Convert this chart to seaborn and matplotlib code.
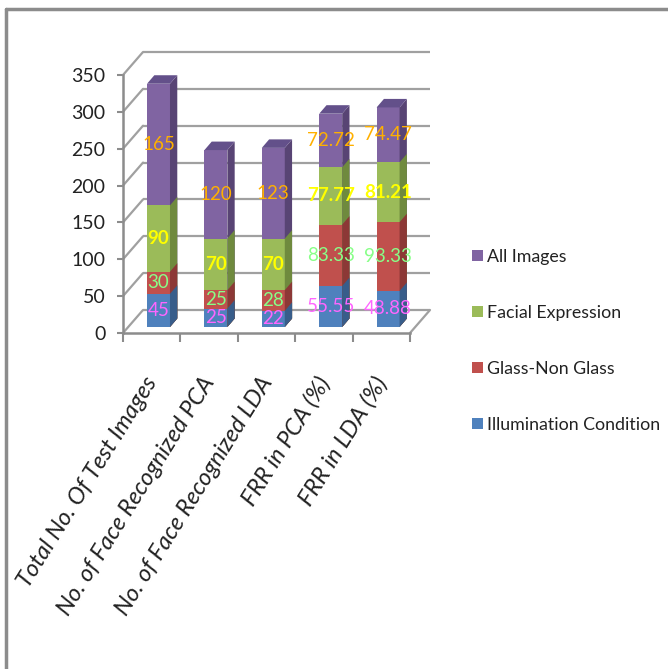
import numpy as np
import pandas as pd
import matplotlib
matplotlib.use("Agg")
import matplotlib.pyplot as plt
import matplotlib.transforms as mtransforms
from matplotlib.patches import Polygon, Patch
from matplotlib.lines import Line2D
import seaborn as sns

# ── data ────────────────────────────────────────────────────────────────────
categories = ["Total No. Of Test Images", "No. of Face Recognized PCA",
              "No. of Face Recognized LDA", "FRR in PCA (%)", "FRR in LDA (%)"]
illumination = [45, 25, 22, 55.55, 48.88]
glass        = [30, 25, 28, 83.33, 93.33]
facial       = [90, 70, 70, 77.77, 81.21]
all_images   = [165, 120, 123, 72.72, 74.47]
series_names = ["Illumination Condition", "Glass-Non Glass",
                "Facial Expression", "All Images"]
y_ticks = [0, 50, 100, 150, 200, 250, 300, 350]

# ── styles ──────────────────────────────────────────────────────────────────
FRONT = ["#4F81BD", "#C0504D", "#9BBB59", "#8064A2"]
SIDE  = ["#385D8A", "#8C3836", "#6F8A3E", "#584474"]
TOP   = "#63508A"
LABEL = ["#FF66FF", "#88FF88", "#FFFF00", "#FFB000"]
WEIGHT = ["normal", "normal", "bold", "normal"]
GRID  = "#a0a0a0"
AXIS  = "#8c8c8c"
TXT   = "#222222"

sns.set_theme(style="white")
plt.rcParams["font.family"] = ["Lato", "DejaVu Sans"]

W, H = 668, 669
fig = plt.figure(figsize=(W / 100, H / 100), dpi=100)

# bar plane (middle depth) and front plane (axis lines / ticks)
ax = fig.add_axes([129.8 / W, 342 / H, 287 / W, 258 / H])
ax_front = fig.add_axes([123 / W, 336 / H, 287 / W, 258 / H])

df = pd.DataFrame({"category": categories,
                   series_names[0]: illumination,
                   series_names[1]: glass,
                   series_names[2]: facial,
                   series_names[3]: all_images})
vals = df[series_names].to_numpy().T          # (4 series, 5 categories)
cum = np.cumsum(vals, axis=0)

ax.set_xlim(-0.5, 4.5)
ax.set_ylim(0, 350)
sx = ax.transData.transform((1, 0))[0] - ax.transData.transform((0, 0))[0]
sy = ax.transData.transform((0, 1))[1] - ax.transData.transform((0, 0))[1]
bdx, bdy = 7.3 / sx, 8.5 / sy                 # bar depth in data units

# back wall gridlines + floor
back = mtransforms.offset_copy(ax.transData, fig=fig, x=13.2, y=17, units="dots")
ax.hlines(y_ticks, -0.5, 4.5, transform=back, color=GRID, lw=1.6,
          zorder=0, clip_on=False)

# stacked bars, drawn top layer first so lower layers overlay
for k in range(3, -1, -1):
    n0 = len(ax.patches)
    sns.barplot(x=df["category"], y=cum[k], color=FRONT[k], saturation=1,
                width=0.4, ax=ax, edgecolor="none", linewidth=0)
    for p in ax.patches[n0:]:
        z = 2 + (3 - k) * 0.1
        p.set_zorder(z)
        p.set_clip_on(False)
        x0, y0 = p.get_x(), p.get_y()
        w, h = p.get_width(), p.get_height()
        side = Polygon([(x0 + w, y0), (x0 + w + bdx, y0 + bdy),
                        (x0 + w + bdx, y0 + h + bdy), (x0 + w, y0 + h)],
                       closed=True, facecolor=SIDE[k], edgecolor="none",
                       zorder=z, clip_on=False)
        ax.add_patch(side)
        if k == 3:
            top = Polygon([(x0, y0 + h), (x0 + w, y0 + h),
                           (x0 + w + bdx, y0 + h + bdy), (x0 + bdx, y0 + h + bdy)],
                          closed=True, facecolor=TOP, edgecolor="none",
                          zorder=z, clip_on=False)
            ax.add_patch(top)

# data labels
for k in range(4):
    bottoms = cum[k] - vals[k]
    for i, v in enumerate(vals[k]):
        ax.text(i, bottoms[i] + v / 2, f"{v:g}", ha="center", va="center",
                color=LABEL[k], fontsize=13.5, fontweight=WEIGHT[k], zorder=10)

ax.set_xlim(-0.5, 4.5)
ax.set_ylim(0, 350)
ax.set_axis_off()

# front plane axes
ax_front.set_xlim(-0.5, 4.5)
ax_front.set_ylim(0, 350)
ax_front.set_facecolor("none")
ax_front.set_yticks(y_ticks)
ax_front.set_xticks(np.arange(-0.5, 5, 1))
ax_front.set_xticklabels([])
ax_front.spines[["top", "right"]].set_visible(False)
for s in ["left", "bottom"]:
    ax_front.spines[s].set_color(AXIS)
    ax_front.spines[s].set_linewidth(1.8)
ax_front.tick_params(axis="y", left=True, direction="out", length=4.5,
                     width=1.5, color=AXIS, pad=8, labelsize=14, labelcolor=TXT)
ax_front.tick_params(axis="x", bottom=True, direction="out", length=6.5,
                     width=1.5, color=AXIS)

# side wall diagonals and floor right edge
fx = ax_front.transData.transform((1, 0))[0] - ax_front.transData.transform((0, 0))[0]
fy = ax_front.transData.transform((0, 1))[1] - ax_front.transData.transform((0, 0))[1]
ddx, ddy = 20 / fx, 23 / fy
for t in y_ticks:
    ax_front.plot([-0.5, -0.5 + ddx], [t, t + ddy], color=GRID, lw=1.6,
                  clip_on=False, zorder=1)
ax_front.plot([4.5, 4.5 + ddx], [0, ddy], color=GRID, lw=1.6,
              clip_on=False, zorder=1)

# rotated category labels
lab_tr = mtransforms.offset_copy(ax_front.get_xaxis_transform(), fig=fig,
                                 x=-8, y=-40, units="dots")
for i, c in enumerate(categories):
    ax_front.text(i, 0, c, transform=lab_tr, rotation=58, rotation_mode="anchor",
                  ha="right", va="top", style="italic", fontsize=17, color=TXT)

# legend
handles = [Patch(facecolor=FRONT[k], edgecolor="none", label=series_names[k])
           for k in range(3, -1, -1)]
fig.legend(handles=handles, loc="center left", bbox_to_anchor=(472 / W, 328 / H),
           frameon=False, fontsize=12.8, handlelength=0.6, handleheight=0.6,
           handletextpad=0.25, labelspacing=2.25, borderpad=0, borderaxespad=0,
           labelcolor=TXT)

# outer frame
fig.add_artist(Line2D([6 / W, 1], [1 - 9 / H, 1 - 9 / H], transform=fig.transFigure,
                      color=AXIS, lw=2.5))
fig.add_artist(Line2D([6 / W, 6 / W], [0, 1 - 9 / H], transform=fig.transFigure,
                      color=AXIS, lw=2.5))

fig.savefig("out.png", dpi=100)
